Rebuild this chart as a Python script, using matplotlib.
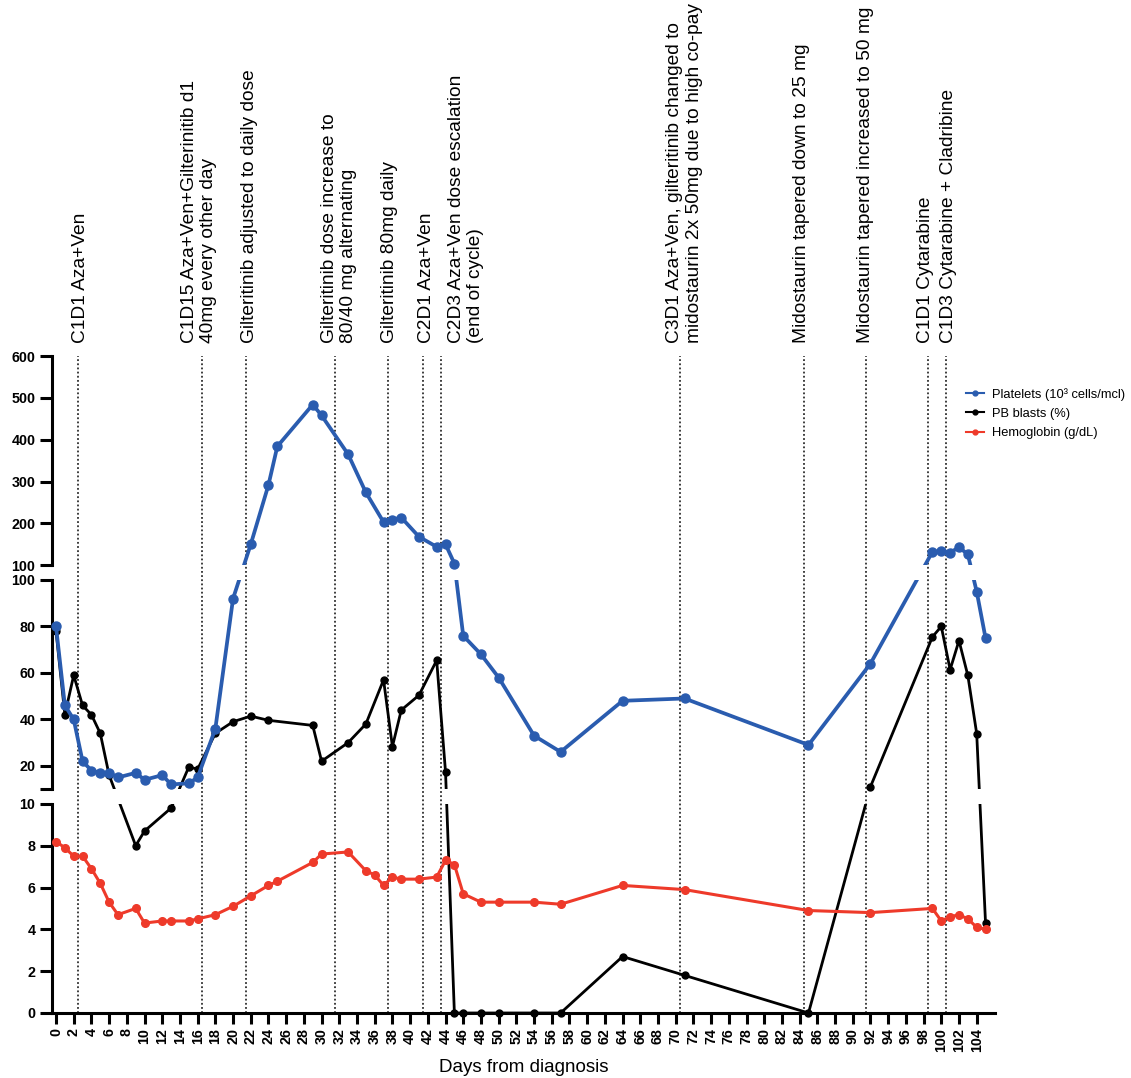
"""
Broken-axis line chart.

Platelets, peripheral blood blasts and hemoglobin over days from diagnosis,
drawn on three stacked value ranges, with treatment changes marked as
dotted vertical lines.
"""

import numpy as np
import matplotlib

matplotlib.use("Agg")
import matplotlib.pyplot as plt
from matplotlib.lines import Line2D
from matplotlib.transforms import blended_transform_factory

plt.rcParams["font.family"] = ["Liberation Sans", "DejaVu Sans"]

# --- data -------------------------------------------------------------------
PLATELET_DAYS = [0, 1, 2, 3, 4, 5, 6, 7, 9, 10, 12, 13, 15, 16, 18, 20, 22, 24,
                 25, 29, 30, 33, 35, 37, 38, 39, 41, 43, 44, 45, 46, 48, 50, 54,
                 57, 64, 71, 85, 92, 99, 100, 101, 102, 103, 104, 105]
PLATELETS = [80, 46, 40, 22, 18, 17, 17, 15, 17, 14, 16, 12, 12.5, 15, 36, 92,
             150, 292, 384, 484, 458, 365, 274, 203, 209, 214, 168, 144, 150,
             104, 76, 68, 58, 33, 26, 48, 49, 29, 64, 132, 133, 130, 143, 126,
             95, 75]

BLAST_DAYS = [0, 1, 2, 3, 4, 5, 6, 9, 10, 13, 15, 16, 18, 20, 22, 24, 29, 30,
              33, 35, 37, 38, 39, 41, 43, 44, 45, 46, 48, 50, 54, 57, 64, 71,
              85, 92, 99, 100, 101, 102, 103, 104, 105]
BLASTS = [78, 42, 59, 46, 42, 34, 16, 8, 8.7, 9.8, 19.5, 18.6, 34, 39, 41.4,
          39.6, 37.4, 22, 30, 38, 57, 28.3, 44, 50.4, 65.4, 17.4, 0, 0, 0, 0,
          0, 0, 2.7, 1.8, 0, 11, 75.5, 80, 61.4, 73.9, 58.9, 33.9, 4.3]

HGB_DAYS = [0, 1, 2, 3, 4, 5, 6, 7, 9, 10, 12, 13, 15, 16, 18, 20, 22, 24, 25,
            29, 30, 33, 35, 36, 37, 38, 39, 41, 43, 44, 45, 46, 48, 50, 54, 57,
            64, 71, 85, 92, 99, 100, 101, 102, 103, 104, 105]
HEMOGLOBIN = [8.2, 7.9, 7.5, 7.5, 6.9, 6.2, 5.3, 4.7, 5.0, 4.3, 4.4, 4.4, 4.4,
              4.5, 4.7, 5.1, 5.6, 6.1, 6.3, 7.2, 7.6, 7.7, 6.8, 6.6, 6.1, 6.5,
              6.4, 6.4, 6.5, 7.3, 7.1, 5.7, 5.3, 5.3, 5.3, 5.2, 6.1, 5.9, 4.9,
              4.8, 5.0, 4.4, 4.6, 4.7, 4.5, 4.1, 4.0]

SERIES_NAMES = ["Platelets (10³ cells/mcl)", "PB blasts (%)", "Hemoglobin (g/dL)"]

EVENT_DAYS = [2.5, 16.5, 21.5, 31.5, 37.5, 41.5, 43.5, 70.5, 84.5, 91.5, 98.5,
              100.5]
EVENT_LABELS = [
    "C1D1 Aza+Ven",
    "C1D15 Aza+Ven+Gilterinitib d1\n40mg every other day",
    "Gilteritinib adjusted to daily dose",
    "Gilteritinib dose increase to\n80/40 mg alternating",
    "Gilteritinib 80mg daily",
    "C2D1 Aza+Ven",
    "C2D3 Aza+Ven dose escalation\n(end of cycle)",
    "C3D1 Aza+Ven, gilteritinib changed to\nmidostaurin 2x 50mg due to high co-pay",
    "Midostaurin tapered down to 25 mg",
    "Midostaurin tapered increased to 50 mg",
    "C1D1 Cytarabine",
    "C1D3 Cytarabine + Cladribine",
]

# value ranges of the stacked panels, bottom to top, and their ticks
SEGMENTS = [(0, 10), (10, 100), (100, 600)]
SEGMENT_TICKS = [[0, 2, 4, 6, 8, 10],
                 [10, 20, 40, 60, 80, 100],
                 [100, 200, 300, 400, 500, 600]]
SEGMENT_TICK_LABELS = [["0", "2", "4", "6", "8", "10"],
                       ["", "20", "40", "60", "80", "100"],
                       ["100", "200", "300", "400", "500", "600"]]

# --- layout -----------------------------------------------------------------
LEFT, WIDTH = 0.046, 0.834
BOTTOM, SEG_H, GAP_H = 0.0603, 0.194, 0.0137
GAP = GAP_H / SEG_H          # gap between panels, in panel heights
XLIM = (-0.45, 106.1)
LABEL_X = [2.77, 16.16, 21.9, 31.98, 37.7, 41.8, 46.3, 71.0, 84.2, 91.4, 98.2,
           100.8]
LABEL_Y = 0.6818             # figure fraction of the label baseline end

COLORS = ["#2A5CAF", "#000000", "#EE3A2A"]
LINE_W = [2.7, 2.0, 2.2]
MARKER_S = [6.5, 5, 5.5]
ZORDER = [6, 4, 5]


def stacked_scale(home):
    """Forward/inverse pair that puts a value at its height in the stack of
    panels, so lines crossing a break stay straight on the page."""
    lows = np.array([s[0] for s in SEGMENTS], dtype=float)
    highs = np.array([s[1] for s in SEGMENTS], dtype=float)
    lo, hi = SEGMENTS[home]

    def forward(v):
        v = np.asarray(v, dtype=float)
        seg = np.digitize(v, [SEGMENTS[1][0], SEGMENTS[2][0]])
        seg = np.where((v >= lo) & (v <= hi), home, seg)
        return seg * (1 + GAP) + (v - lows[seg]) / (highs[seg] - lows[seg])

    def inverse(p):
        p = np.asarray(p, dtype=float)
        seg = np.clip(np.floor(p / (1 + GAP)), 0, 2).astype(int)
        frac = np.clip(p - seg * (1 + GAP), 0, 1)
        return lows[seg] + frac * (highs[seg] - lows[seg])

    return forward, inverse


def generate_chart():
    fig = plt.figure(figsize=(11.31, 10.78), dpi=100)

    # background axes for the event lines, spanning all panels and gaps
    bg = fig.add_axes([LEFT, BOTTOM, WIDTH, 3 * SEG_H + 2 * GAP_H])
    bg.set_xlim(*XLIM)
    bg.axis("off")
    for day in EVENT_DAYS:
        bg.axvline(day, color="#2e2e2e", lw=1.3, linestyle=(0, (1, 1.3)),
                   zorder=1)

    label_tf = blended_transform_factory(bg.transData, fig.transFigure)
    for x, text in zip(LABEL_X, EVENT_LABELS):
        bg.text(x, LABEL_Y, text, transform=label_tf, rotation=90,
                ha="center", va="bottom", multialignment="left",
                fontsize=13.8, linespacing=1.2)

    series = [(PLATELET_DAYS, PLATELETS), (BLAST_DAYS, BLASTS),
              (HGB_DAYS, HEMOGLOBIN)]

    axes = []
    for k, (lo, hi) in enumerate(SEGMENTS):
        ax = fig.add_axes([LEFT, BOTTOM + k * (SEG_H + GAP_H), WIDTH, SEG_H])
        ax.patch.set_visible(False)
        ax.set_yscale("function", functions=stacked_scale(k))

        for i, (days, vals) in enumerate(series):
            days = np.asarray(days, dtype=float)
            vals = np.asarray(vals, dtype=float)
            ax.plot(days, vals, color=COLORS[i], lw=LINE_W[i],
                    zorder=ZORDER[i], solid_joinstyle="round")
            inside = (vals >= lo) & (vals <= hi)
            ax.plot(days[inside], vals[inside], linestyle="none", marker="o",
                    ms=MARKER_S[i], color=COLORS[i], zorder=ZORDER[i] + 1,
                    clip_on=False)

        ax.set_xlim(*XLIM)
        ax.set_ylim(lo, hi)
        ax.set_yticks(SEGMENT_TICKS[k], SEGMENT_TICK_LABELS[k])
        ax.minorticks_off()

        for side in ("top", "right", "bottom"):
            ax.spines[side].set_visible(False)
        ax.spines["left"].set_linewidth(2.2)
        ax.tick_params(axis="y", width=2.2, length=9, pad=3, labelsize=10.3)
        for lbl in ax.get_yticklabels():
            lbl.set_fontweight("bold")
        ax.tick_params(axis="x", bottom=False, labelbottom=False)
        axes.append(ax)

    base = axes[0]
    base.spines["bottom"].set_visible(True)
    base.spines["bottom"].set_linewidth(2.2)
    base.set_xticks(np.arange(0, 105, 2))
    base.tick_params(axis="x", bottom=True, labelbottom=True, width=2.2,
                     length=8, pad=3, labelsize=10.3, labelrotation=90)
    for lbl in base.get_xticklabels():
        lbl.set_fontweight("bold")
    base.set_xlabel("Days from diagnosis", fontsize=13.5, labelpad=5)

    handles = [Line2D([], [], color=c, lw=1.5, marker="o", ms=3.5)
               for c in COLORS]
    fig.legend(handles, SERIES_NAMES, loc="upper left",
               bbox_to_anchor=(966 / 1131, 1 - 388 / 1078), frameon=False,
               fontsize=9.3, handlelength=1.4, handletextpad=0.6,
               labelspacing=0.55, borderpad=0, borderaxespad=0)

    fig.savefig("out.png", dpi=100)


if __name__ == "__main__":
    generate_chart()
